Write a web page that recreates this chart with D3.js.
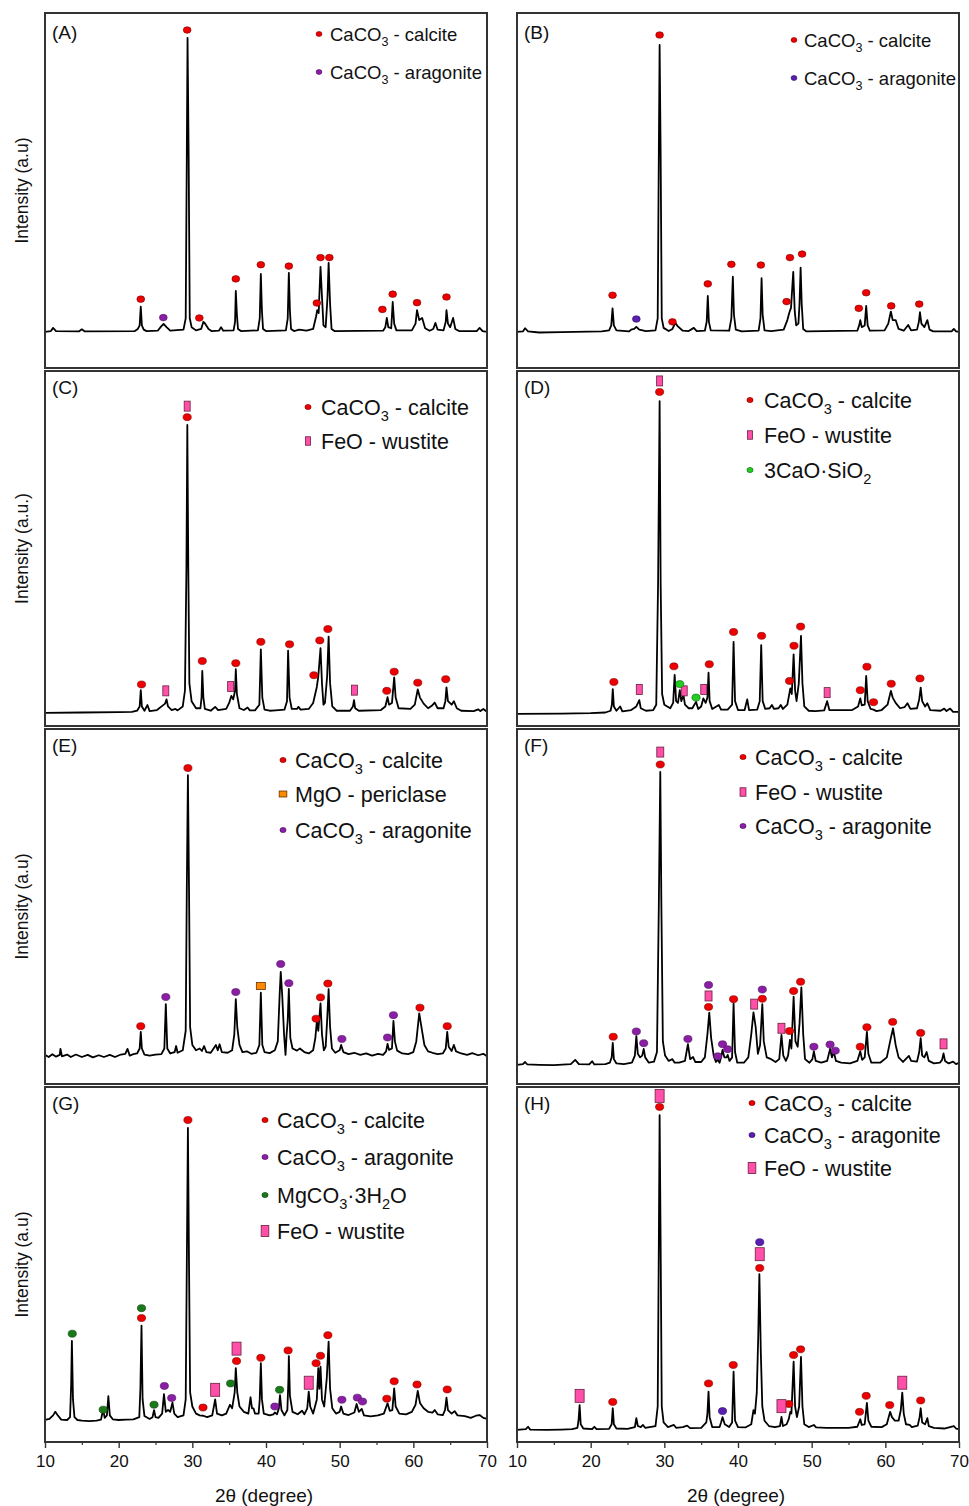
<!DOCTYPE html>
<html><head><meta charset="utf-8">
<script src="https://cdn.jsdelivr.net/npm/d3@7"></script>
<style>body{margin:0;background:#fff}svg{display:block}</style>
</head><body>
<svg id="chart" width="969" height="1506"></svg>
<script>
// ---------- DATA (2θ in degrees, intensity in a.u. 0–100 of panel height) ----------
const xTicks = [10, 20, 30, 40, 50, 60, 70];
const xMinorTicks = [15, 25, 35, 45, 55, 65];
const xTitle = "2θ (degree)";

const specA = [[10,10.2],[10.8,10.4],[11.1,11.3],[11.5,10.4],[14.6,10.3],[15.0,10.9],[15.4,10.3],[22.2,10.4],[22.6,11],[22.85,12],[23.0,17.3],[23.15,12],[23.4,10.8],[23.8,10.4],[25.3,10.5],[25.8,11.8],[26.1,12.4],[26.5,11.5],[27,10.5],[28.8,10.8],[29.1,14],[29.25,60],[29.35,93],[29.5,60],[29.65,14],[29.9,11.5],[30.5,10.6],[31.2,11],[31.5,13],[31.7,12.6],[32.2,11],[32.6,10.4],[33.6,10.5],[33.9,11.5],[34.2,10.5],[35.6,10.6],[35.8,13],[35.9,21.7],[36.05,15],[36.2,11],[36.6,10.4],[38.9,10.6],[39.15,14],[39.3,26.5],[39.45,16],[39.6,11],[40,10.4],[42.7,10.6],[42.95,14],[43.1,26.8],[43.25,16],[43.4,11],[43.8,10.4],[44.5,10.8],[45.5,10.5],[46.4,11],[46.8,14.5],[46.95,16.3],[47.15,15.5],[47.4,28.5],[47.6,20],[47.8,12],[48.1,11.5],[48.35,20],[48.5,29.6],[48.7,18],[48.9,11],[49.3,10.4],[55.9,10.5],[56.2,11.5],[56.4,14.1],[56.6,11.5],[57.0,11.2],[57.2,18.6],[57.4,12.5],[57.7,10.6],[59.8,10.6],[60.3,12.5],[60.5,16.3],[60.8,13.5],[61.2,14.1],[61.6,11.2],[62.2,10.5],[62.7,11],[63.0,12.7],[63.3,10.8],[64.1,10.6],[64.4,13],[64.5,16.3],[64.7,12.5],[65.0,11.5],[65.4,14.1],[65.7,11],[66.2,10.4],[68.6,10.4],[69.0,11.3],[69.4,10.4],[70,10.2]];
const specB = [[10,10.2],[10.8,10.3],[11.1,11.2],[11.5,10.3],[13,10],[16,10.1],[21.5,10.3],[22.5,10.6],[22.8,12],[22.97,16.8],[23.15,12],[23.5,10.6],[25.2,10.3],[25.5,10.8],[25.9,11],[26.2,11.6],[26.6,10.8],[27.5,10.4],[28.8,10.6],[29.1,14],[29.25,60],[29.36,91],[29.5,60],[29.65,14],[29.9,11.3],[30.6,10.4],[31.1,11],[31.5,12.7],[31.8,11.8],[32.5,10.5],[33.3,10.4],[34,11.3],[34.4,10.4],[35.5,10.5],[35.75,13],[35.9,20.3],[36.05,13],[36.3,10.6],[38.8,10.5],[39.1,14],[39.3,25.7],[39.45,15],[39.7,10.8],[40.5,10.3],[42.8,10.5],[43.05,14],[43.2,25.3],[43.35,15],[43.6,10.6],[44.5,10.4],[46.2,10.8],[46.7,13.5],[46.95,15.5],[47.2,17],[47.5,27.1],[47.7,16],[47.9,12],[48.2,12.5],[48.35,18],[48.5,28.3],[48.65,18],[48.85,11],[49.3,10.3],[56.2,10.5],[56.45,12],[56.6,13.5],[56.8,11.5],[57.2,12],[57.4,17.5],[57.6,12],[57.9,10.5],[59.9,10.6],[60.4,12.5],[60.75,15.9],[61.0,13.5],[61.4,13.5],[61.8,11],[62.5,10.5],[63.1,12.1],[63.5,10.6],[64.3,10.8],[64.55,13],[64.7,15.7],[64.9,12.5],[65.3,11.5],[65.7,13.5],[66,10.8],[66.5,10.3],[69,10.3],[69.3,11],[69.6,10.3],[70,10.2]];
const specC = [[10,3.7],[15,3.8],[20,3.9],[21.8,4],[22.5,4.3],[22.85,5.5],[23.0,10.1],[23.15,5.5],[23.5,4.3],[23.9,5.9],[24.2,4.2],[25.2,4.5],[26.0,5.8],[26.3,6.3],[26.5,7.5],[26.7,5.5],[27.2,4.5],[27.7,4.8],[28,4.4],[28.7,5.5],[29.0,10],[29.2,45],[29.32,84.8],[29.45,45],[29.6,12],[29.9,7],[30.5,5],[31.1,5],[31.25,8],[31.35,15.5],[31.5,8],[31.7,4.8],[32.5,4.3],[33.1,5.4],[33.5,4.5],[34.6,4.8],[35.0,6.5],[35.3,8.5],[35.55,7.5],[35.8,10],[35.9,16],[36.05,9],[36.4,5],[37.0,4.5],[37.5,5.2],[37.8,4.4],[38.5,4.4],[39.1,6],[39.3,21.6],[39.5,8],[39.8,4.6],[40.5,4.3],[41.3,4.4],[42.5,4.6],[42.85,7],[43.0,21.2],[43.2,8],[43.5,4.8],[44.2,4.8],[44.4,5.4],[44.7,4.6],[45.8,4.8],[46.4,6.5],[46.9,11],[47.1,14],[47.4,21.9],[47.6,12],[47.8,6],[48.0,6.5],[48.3,14],[48.5,25.2],[48.7,12],[49.0,5.5],[49.6,4.3],[51.4,4.3],[51.8,5.5],[51.95,7.3],[52.1,5],[52.6,4.3],[55.6,4.5],[56.2,5.5],[56.5,8.1],[56.7,6],[57.1,6.5],[57.4,13.7],[57.6,8],[58,5],[59.6,4.8],[60.2,6],[60.6,10.3],[60.9,8],[61.4,6.3],[62,5],[62.5,5.7],[62.9,6.6],[63.3,5],[64.1,5],[64.35,7],[64.5,10.9],[64.7,7],[65.2,6],[65.5,7],[65.9,5],[66.5,4.3],[68.2,4.2],[68.8,4.7],[69.1,4.2],[69.5,4.8],[70,4]];
const specD = [[10,3.4],[16,3.5],[20,3.6],[22,3.8],[22.7,4.3],[22.88,6],[23.0,10.4],[23.15,5.5],[23.5,4.3],[24,5.5],[24.3,4.1],[25.5,4.5],[26.2,5.5],[26.6,7.3],[26.8,5],[27.5,4.3],[28.5,4.5],[28.9,6],[29.15,40],[29.36,91.5],[29.5,40],[29.7,9],[30,6],[30.8,5],[31.2,6.5],[31.4,14.4],[31.6,7],[31.85,6.5],[32.1,10.1],[32.3,7],[32.6,8.7],[32.8,6],[33.3,5],[33.8,5],[34.3,6.8],[34.6,4.8],[35.0,5.5],[35.3,7.8],[35.6,6.5],[35.85,8],[36.0,15],[36.15,7],[36.5,4.8],[37.4,5.9],[37.7,4.6],[38.6,4.6],[39.2,6],[39.4,23.7],[39.6,7],[40,4.5],[40.9,4.5],[41.25,7.5],[41.5,4.5],[42.6,4.6],[42.95,7],[43.15,22.8],[43.35,7],[43.7,4.8],[44.3,5],[44.6,5.9],[44.9,4.8],[45.5,5],[45.8,5.9],[46.1,4.8],[46.7,6],[47.1,10.6],[47.3,9],[47.55,20.2],[47.75,10],[47.95,7],[48.25,12],[48.55,25.4],[48.75,12],[49.0,5.5],[49.6,4.3],[50.5,4.2],[51.7,4.4],[52.1,7],[52.4,4.5],[55.5,4.5],[56.3,5.5],[56.6,7.8],[56.8,5.8],[57.2,6],[57.4,14.1],[57.6,7],[58.0,4.8],[58.4,4.6],[58.8,4.2],[59.5,4.5],[60.3,6],[60.75,9.9],[61.0,8],[61.4,6.5],[62,5],[62.6,5.3],[63.0,6.4],[63.4,4.8],[64.3,5],[64.6,7.5],[64.8,10.8],[65.0,7],[65.4,5.5],[65.7,6.4],[66.1,4.5],[67.5,4.3],[68,4.9],[68.3,4.2],[68.8,4.9],[69.2,4],[70,4]];
const specE = [[10,8.2],[10.5,7.6],[11,8.4],[11.5,7.7],[12,8.2],[12.1,9.9],[12.3,7.8],[13,8.3],[13.5,7.6],[14.2,8.3],[15,7.6],[15.8,8.2],[16.5,7.5],[17.3,8.1],[18,7.6],[18.8,8.2],[19.5,7.6],[20.3,8.3],[20.9,8.5],[21.2,9.9],[21.5,8],[22,8.4],[22.5,8.6],[22.85,10],[23.0,14.7],[23.15,10],[23.5,8.3],[24.2,8],[25,8.3],[25.8,8.4],[26.2,10],[26.4,22.5],[26.6,10],[27,8.6],[27.6,9],[27.8,10.7],[28,8.8],[28.7,9.5],[29.1,15],[29.25,55],[29.4,87],[29.55,55],[29.7,16],[30,11],[30.5,9.5],[31,10],[31.3,9.3],[31.6,10.7],[31.9,9],[32.5,8.8],[33.2,11],[33.45,9.5],[33.7,11.2],[34,9],[34.8,8.8],[35.4,9.5],[35.7,14],[35.9,23.9],[36.1,16],[36.4,11],[36.8,9],[37.4,9.2],[38,8.5],[38.7,8.8],[39.1,11],[39.3,25.7],[39.5,11],[39.8,9],[40.5,8.7],[41.2,9.5],[41.6,12],[41.85,25],[42.0,31.6],[42.2,25],[42.45,14],[42.65,8.2],[42.8,14],[42.95,18],[43.1,26.8],[43.3,13],[43.6,10],[44.2,9.4],[44.6,10],[45.2,9],[45.8,8.6],[46.4,9.5],[46.7,13],[46.9,17.6],[47.1,15],[47.4,22.7],[47.6,14],[47.85,9.5],[48.1,10.5],[48.3,18],[48.5,26.7],[48.7,16],[48.95,10],[49.4,8.8],[50,9.5],[50.2,11],[50.5,9],[51.2,8.4],[52,8.8],[52.8,8.2],[53.6,8.6],[54.4,8],[55.2,8.5],[55.9,8.2],[56.3,9.2],[56.5,11.3],[56.7,9.6],[57.1,10],[57.3,17.8],[57.5,12],[57.8,9.4],[58.5,8.6],[59.3,8.4],[60,9],[60.4,12],[60.8,19.9],[61.1,16],[61.5,11],[62,9.2],[62.6,8.8],[63.3,8.4],[64,8.6],[64.4,10],[64.6,14.7],[64.8,10.5],[65.2,9.3],[65.5,11],[65.8,9.2],[66.5,8.6],[67.3,8.2],[68,8.7],[68.8,8.1],[69.5,8.5],[70,7.8]];
const specF = [[10,5.4],[10.8,5.6],[11.1,6.2],[11.4,5.5],[13,5.4],[15,5.3],[17.3,5.6],[17.9,6.8],[18.4,5.6],[19.8,5.5],[20.2,6.4],[20.5,5.5],[22,5.6],[22.6,6],[22.85,7.5],[23.0,11.6],[23.15,7],[23.5,5.8],[24.5,5.6],[25.6,6],[26.0,8],[26.2,13.5],[26.4,8.5],[26.7,7.5],[27.0,8],[27.2,9.9],[27.4,7.5],[27.9,6],[28.6,6.3],[29.0,9],[29.25,50],[29.45,87.9],[29.6,50],[29.8,12],[30.1,8],[30.6,6.5],[31.1,7],[31.4,6],[32.0,6],[32.8,6.5],[33.2,11.2],[33.5,7],[33.9,7.6],[34.2,6.2],[35,6.2],[35.5,7.5],[35.85,14],[36.1,20.1],[36.35,13],[36.7,8],[37.0,6.2],[37.25,6.8],[37.5,6],[37.75,8],[37.9,9.6],[38.15,7.5],[38.45,7.5],[38.6,8.2],[38.85,6.5],[39.2,7.5],[39.4,22.7],[39.6,9],[39.9,6],[40.8,6],[41.4,7.5],[41.8,14],[42.1,20.2],[42.4,16],[42.7,8.5],[43.0,11],[43.3,22.5],[43.5,12],[43.9,7.5],[44.5,7],[45.1,6.2],[45.6,7],[45.9,13.8],[46.15,8],[46.5,6.5],[46.8,8],[47.05,12.4],[47.25,10],[47.55,24.6],[47.8,12],[48.1,10.5],[48.35,17],[48.6,27.2],[48.85,14],[49.1,7],[49.7,6],[50.1,7],[50.3,9.2],[50.55,6.5],[51.3,6],[52.1,6.5],[52.5,9.9],[52.75,7.5],[53.0,9],[53.3,6.5],[54,6],[55.2,5.8],[56.2,6.5],[56.6,9.2],[56.85,6.8],[57.2,7.5],[57.5,14.7],[57.7,8.5],[58.1,6],[59.3,6],[60.2,7.5],[60.7,12.5],[61.05,15.7],[61.4,11],[61.8,7.5],[62.4,6.2],[63.0,7.5],[63.2,7.9],[63.5,6.5],[64.3,6.3],[64.6,9],[64.8,12.9],[65.0,8],[65.3,7.5],[65.6,9],[65.9,6.5],[66.6,5.8],[67.4,6],[67.7,6.8],[67.9,8.6],[68.1,6.5],[68.6,5.8],[69.2,6.3],[69.6,5.6],[70,6]];
const specG = [[10,6.2],[10.6,6.5],[11.1,7.5],[11.4,8.5],[11.7,7.6],[12.2,6.3],[13.0,6.2],[13.4,7],[13.55,16],[13.65,28.5],[13.8,12],[14,7],[14.4,6.2],[15,6],[16,5.9],[17,6],[17.6,6.3],[17.9,9.2],[18.1,6.8],[18.4,7.5],[18.6,12.9],[18.8,7.5],[19.2,6.4],[20,6.2],[21,6.3],[22,6.4],[22.8,7],[22.95,15],[23.1,32.8],[23.25,12],[23.5,7.3],[24.2,6.5],[24.6,7],[24.8,9],[25.0,7],[25.4,6.8],[25.9,8],[26.15,13.5],[26.4,8.5],[26.7,9],[27.0,8.5],[27.3,11.1],[27.55,8],[28,7],[28.8,7.5],[29.1,12],[29.25,50],[29.4,88.5],[29.55,50],[29.7,14],[30.0,10],[30.5,8],[31.0,7.5],[31.5,7.4],[32.0,7],[32.7,7.5],[33.1,12],[33.35,8],[34.0,7.5],[34.6,8],[35.1,10.5],[35.4,9.5],[35.75,14],[35.9,20.8],[36.1,14],[36.4,10],[37,8.5],[37.6,8],[37.9,12.6],[38.1,9.5],[38.3,9.5],[38.5,8],[39.0,8],[39.15,12],[39.3,22.2],[39.45,12],[39.7,8],[40.5,7.5],[41.0,7.8],[41.2,8.3],[41.5,7.8],[41.75,9.5],[41.9,13.2],[42.1,9],[42.5,7.5],[42.9,9],[43.05,18],[43.1,24.2],[43.25,13],[43.6,8.5],[44.3,7.8],[44.9,8.8],[45.2,7.8],[45.6,9.5],[45.8,14.2],[46.0,10],[46.4,8],[46.9,12],[47.1,20.8],[47.25,15],[47.4,21.2],[47.6,12],[47.9,10],[48.25,18],[48.5,28.3],[48.7,15],[49.0,9.5],[49.5,8],[50.0,8.5],[50.2,10],[50.5,8],[51.2,7.6],[52.0,8.3],[52.3,10.7],[52.6,8.5],[53.0,9.3],[53.3,7.5],[54.2,7.2],[55.2,7.5],[56.0,8],[56.5,10.9],[56.8,8.8],[57.15,9],[57.4,15.1],[57.6,10],[58.1,8],[59.0,7.8],[59.8,8.5],[60.3,10.5],[60.6,14.4],[60.9,11],[61.4,9.5],[62,8.5],[62.6,8.3],[62.9,9],[63.3,7.8],[64.0,7.6],[64.3,9],[64.5,12.5],[64.7,9],[65.2,8],[65.6,8.7],[66,7.5],[67,7.3],[67.8,6.8],[68.5,7.4],[69.0,7.6],[69.5,6.8],[70,6.5]];
const specH = [[10,3.4],[11.2,3.6],[11.5,4.3],[11.8,3.5],[14,3.4],[16,3.5],[17.5,3.6],[18.2,4],[18.35,6],[18.5,10.4],[18.65,5],[19,3.8],[20.2,3.6],[20.5,4.3],[20.8,3.6],[22.5,3.7],[22.85,5],[23.0,9.5],[23.15,5],[23.5,3.8],[25,3.7],[26.0,4.2],[26.2,6.7],[26.4,4.5],[26.8,4.2],[27.1,4.8],[27.4,4],[28.8,4.5],[29.1,10],[29.25,55],[29.36,92.1],[29.5,55],[29.65,10],[29.9,5.5],[30.5,4.2],[31.3,4.8],[31.6,4],[32.5,4.2],[33.1,4.6],[33.5,3.9],[35,4],[35.7,5.5],[35.85,8],[36.0,14.2],[36.15,7],[36.5,4.2],[37.5,4.2],[37.7,5.5],[37.9,7],[38.2,5],[38.8,4.2],[39.2,5.5],[39.4,19.8],[39.6,6],[40,4.2],[41,4.1],[41.8,5],[42.1,9],[42.3,8],[42.55,14],[42.75,30],[42.9,47.3],[43.1,25],[43.3,10],[43.6,6],[44.2,4.5],[45,4.2],[45.7,4.5],[45.9,7.1],[46.1,4.5],[46.6,5],[46.9,6.5],[47.1,8.5],[47.25,8],[47.55,22.6],[47.75,10],[48.0,7],[48.3,10],[48.55,24],[48.75,10],[49.0,5],[49.6,4.2],[50.3,4.8],[50.6,4.1],[52,4],[53.3,4],[55,4],[56.2,4.3],[56.6,6.4],[56.8,4.8],[57.2,5],[57.5,11],[57.7,6],[58.1,4.3],[59.5,4.2],[60.2,5],[60.65,8.5],[60.9,7],[61.3,6],[61.8,6],[62.1,9],[62.3,13.9],[62.5,8],[62.8,5],[63.3,4.8],[63.6,4.2],[64.4,4.6],[64.65,7],[64.8,9.5],[65.0,5.5],[65.4,5],[65.7,6.7],[65.9,4.5],[66.6,4],[68,3.8],[69.3,4.5],[69.6,3.8],[70,3.6]];

// phase markers [2θ, intensity]
const calciteA = [[23.0,19.4],[29.3,95.2],[30.95,14.1],[35.9,25.1],[39.3,29.1],[43.1,28.7],[46.9,18.3],[47.4,31.1],[48.6,31.1],[55.8,16.5],[57.2,20.8],[60.5,18.4],[64.5,20]];
const aragoniteA = [[26.06,14.2]];
const calciteB = [[22.97,20.5],[29.36,93.8],[31.1,13],[35.9,23.7],[39.1,29.2],[43.1,29],[46.6,18.7],[47.05,31.1],[48.7,32.1],[56.4,16.8],[57.4,21.2],[60.8,17.5],[64.6,18]];
const aragoniteB = [[26.2,13.8]];
const calciteC = [[23.1,11.7],[29.3,87],[31.35,18.3],[35.9,17.7],[39.3,23.7],[43.2,23],[46.5,14.3],[47.3,24.1],[48.4,27.3],[56.4,9.9],[57.4,15.3],[60.6,12.2],[64.4,13.2]];
const wustiteC = [[26.4,9.9],[29.3,90.1],[35.2,11.1],[52.0,10.1]];
const calciteD = [[23.15,12.4],[29.36,94.1],[31.3,16.8],[36.1,17.4],[39.4,26.5],[43.2,25.4],[47.0,12.7],[47.6,22.6],[48.5,28],[56.6,10.1],[57.5,16.7],[58.4,6.7],[60.8,11.9],[64.7,13.4]];
const wustiteD = [[26.6,10.3],[29.36,97.2],[32.7,9.9],[35.35,10.3],[52.1,9.4]];
const c3sD = [[32.1,11.8],[34.3,8]];
const calciteE = [[23.0,16.3],[29.4,89],[46.8,18.4],[47.4,24.4],[48.4,28.3],[60.9,21.5],[64.6,16.3]];
const periclaseE = [[39.3,27.6]];
const aragoniteE = [[26.4,24.5],[35.9,25.9],[42.0,33.8],[43.1,28.4],[50.3,12.7],[56.5,13.1],[57.3,19.4]];
const calciteF = [[23.06,13.3],[29.45,90],[36.0,21.7],[39.4,23.9],[43.3,24],[47.0,14.9],[47.55,26.2],[48.5,28.8],[56.6,10.5],[57.5,16],[61.0,17.5],[64.8,14.4]];
const wustiteF = [[29.45,93.5],[36.0,24.8],[42.2,22.5],[45.9,15.7],[67.9,11.3]];
const aragoniteF = [[26.2,14.8],[27.2,11.5],[33.2,12.7],[36.0,27.9],[37.25,7.8],[37.9,11.2],[38.6,9.8],[43.3,26.6],[50.3,10.5],[52.5,11.1],[53.2,9.4]];
const calciteG = [[23.1,34.9],[29.4,90.7],[31.45,9.7],[36.0,22.8],[39.3,23.7],[43.0,25.8],[46.8,22.2],[47.4,24.3],[48.4,30.1],[56.4,12.2],[57.4,17.1],[60.5,16.2],[64.6,14.8]];
const aragoniteG = [[26.2,15.8],[27.2,12.4],[41.2,10],[50.3,11.9],[52.4,12.5],[53.1,11.4]];
const mgco3G = [[13.7,30.5],[17.9,9.1],[23.1,37.7],[24.8,10.5],[35.2,16.5],[41.85,14.7]];
const wustiteG = [[33.1,14.7],[36.0,26.3],[45.8,16.7]];
const calciteH = [[23.0,11.3],[29.36,94.4],[36.0,16.5],[39.35,21.7],[42.95,49],[46.9,10.7],[47.55,24.5],[48.5,26.1],[56.5,8.5],[57.4,13],[60.6,10.4],[64.8,11.7]];
const aragoniteH = [[37.9,8.7],[42.95,56.3]];
const wustiteH = [[18.5,13],[29.36,97.5],[42.95,52.9],[45.9,10.1],[62.3,16.7]];

const phaseLabels = {
  calcite: "CaCO_3 - calcite",
  aragonite: "CaCO_3 - aragonite",
  wustite: "FeO - wustite",
  periclase: "MgO - periclase",
  c3s: "3CaO·SiO_2",
  mgco3: "MgCO_3·3H_2O"
};

// ---------- STYLE / LAYOUT ----------
const FONT = "'Liberation Sans', Arial, Helvetica, sans-serif";
const colX = [[45, 487], [517, 959]];
const rowTop = [13, 371, 729, 1087];
const PH = 355;

const styles = {
  calcite: {shape: "circle", fill: "#ee0000", stroke: "#7a0000"},
  aragonite: {shape: "circle", fill: "#8a1fa6", stroke: "#4a0d5a"},
  aragoniteB: {shape: "circle", fill: "#5a1fb0", stroke: "#2a0a60"},
  wustite: {shape: "rect", fill: "#ff4fa8", stroke: "#6a2040"},
  periclase: {shape: "hrect", fill: "#ff8a00", stroke: "#6a3000"},
  c3s: {shape: "circle", fill: "#22cc22", stroke: "#0a600a"},
  mgco3: {shape: "circle", fill: "#1a7a1a", stroke: "#0a3a0a"}
};

const panels = [
  {id: "A", col: 0, row: 0, spec: specA, ylabel: "Intensity (a.u)", lf: 18.5, symX: 274, txtX: 285, rows: [21, 59], ms: {r: 3.6, rw: 6, rh: 10},
   phases: [["calcite", calciteA, "calcite"], ["aragonite", aragoniteA, "aragonite"]]},
  {id: "B", col: 1, row: 0, spec: specB, ylabel: null, lf: 18.5, symX: 277, txtX: 287, rows: [27, 65], ms: {r: 3.6, rw: 6, rh: 10},
   phases: [["calcite", calciteB, "calcite"], ["aragonite", aragoniteB, "aragoniteB"]]},
  {id: "C", col: 0, row: 1, spec: specC, ylabel: "Intensity (a.u.)", lf: 21.5, symX: 263, txtX: 276, rows: [36, 70], ms: {r: 3.8, rw: 6, rh: 10},
   phases: [["calcite", calciteC, "calcite"], ["wustite", wustiteC, "wustite"]]},
  {id: "D", col: 1, row: 1, spec: specD, ylabel: null, lf: 21.5, symX: 233, txtX: 247, rows: [29, 64, 99], ms: {r: 3.8, rw: 6, rh: 10},
   phases: [["calcite", calciteD, "calcite"], ["wustite", wustiteD, "wustite"], ["c3s", c3sD, "c3s"]]},
  {id: "E", col: 0, row: 2, spec: specE, ylabel: "Intensity (a.u)", lf: 21.5, symX: 238, txtX: 250, rows: [31, 65, 101], ms: {r: 3.8, rw: 6, rh: 10},
   phases: [["calcite", calciteE, "calcite"], ["periclase", periclaseE, "periclase"], ["aragonite", aragoniteE, "aragonite"]]},
  {id: "F", col: 1, row: 2, spec: specF, ylabel: null, lf: 21.5, symX: 226, txtX: 238, rows: [28, 63, 97], ms: {r: 3.8, rw: 7, rh: 10},
   phases: [["calcite", calciteF, "calcite"], ["wustite", wustiteF, "wustite"], ["aragonite", aragoniteF, "aragonite"]]},
  {id: "G", col: 0, row: 3, spec: specG, ylabel: "Intensity (a.u)", lf: 21.5, symX: 220, txtX: 232, rows: [33, 70, 108, 144], ms: {r: 3.8, rw: 9, rh: 13},
   phases: [["calcite", calciteG, "calcite"], ["aragonite", aragoniteG, "aragonite"], ["mgco3", mgco3G, "mgco3"], ["wustite", wustiteG, "wustite"]]},
  {id: "H", col: 1, row: 3, spec: specH, ylabel: null, lf: 21.5, symX: 235, txtX: 247, rows: [16, 48, 81], ms: {r: 3.8, rw: 9, rh: 13},
   phases: [["calcite", calciteH, "calcite"], ["aragonite", aragoniteH, "aragoniteB"], ["wustite", wustiteH, "wustite"]]}
];

const svg = d3.select("#chart");

function richText(sel, str, fs) {
  const parts = str.split(/_(\d)/);
  let shifted = false;
  parts.forEach((p, i) => {
    if (p === "") return;
    const t = sel.append("tspan").text(p);
    if (i % 2 === 1) {
      t.attr("font-size", fs * 0.68).attr("dy", fs * 0.28);
      shifted = true;
    } else if (shifted) {
      t.attr("dy", -fs * 0.28);
      shifted = false;
    }
  });
}

function drawSymbol(g, st, cx, cy, ms, scale) {
  const s = scale || 1;
  if (st.shape === "circle") {
    g.append("ellipse").attr("cx", cx).attr("cy", cy).attr("rx", ms.r * 1.08 * s).attr("ry", ms.r * 0.92 * s)
      .attr("fill", st.fill).attr("stroke", st.stroke).attr("stroke-width", 0.6);
  } else if (st.shape === "rect") {
    const w = ms.rw * s, h = ms.rh * s;
    g.append("rect").attr("x", cx - w / 2).attr("y", cy - h / 2).attr("width", w).attr("height", h)
      .attr("fill", st.fill).attr("stroke", st.stroke).attr("stroke-width", 0.8);
  } else if (st.shape === "hrect") {
    const w = 9 * s, h = 7 * s;
    g.append("rect").attr("x", cx - w / 2).attr("y", cy - h / 2).attr("width", w).attr("height", h)
      .attr("fill", st.fill).attr("stroke", st.stroke).attr("stroke-width", 0.8);
  }
}

panels.forEach(p => {
  const [x0, x1] = colX[p.col];
  const top = rowTop[p.row], bottom = top + PH;
  const x = d3.scaleLinear().domain([10, 70]).range([x0, x1]);
  const y = d3.scaleLinear().domain([0, 100]).range([bottom, top]);
  const g = svg.append("g");

  // spectrum
  const line = d3.line().x(d => x(d[0])).y(d => y(d[1]));
  g.append("path").datum(p.spec).attr("d", line).attr("fill", "none")
    .attr("stroke", "#000").attr("stroke-width", 1.8).attr("stroke-linejoin", "round");

  // markers
  p.phases.forEach(([key, pts, styleKey]) => {
    const st = styles[styleKey];
    pts.forEach(d => drawSymbol(g, st, x(d[0]), y(d[1]), p.ms));
  });

  // frame
  g.append("rect").attr("x", x0).attr("y", top).attr("width", x1 - x0).attr("height", PH)
    .attr("fill", "none").attr("stroke", "#333").attr("stroke-width", 2);

  // panel letter
  g.append("text").attr("x", x0 + 7).attr("y", top + (p.row === 0 ? 19 : 16)).attr("dy", "0.35em")
    .attr("font-family", FONT).attr("font-size", 19).attr("fill", "#111").text("(" + p.id + ")");

  // legend
  p.phases.forEach(([key, pts, styleKey], i) => {
    const cy = top + p.rows[i];
    const st = styles[styleKey];
    drawSymbol(g, st, x0 + p.symX, cy, p.ms, st.shape === "circle" ? 0.75 : 0.85);
    const t = g.append("text").attr("x", x0 + p.txtX).attr("y", cy + p.lf * 0.36)
      .attr("font-family", FONT).attr("font-size", p.lf).attr("fill", "#111");
    richText(t, phaseLabels[key], p.lf);
  });

  // y label
  if (p.ylabel) {
    svg.append("text").attr("transform", `translate(22,${top + PH / 2}) rotate(-90)`)
      .attr("text-anchor", "middle").attr("dy", "0.35em")
      .attr("font-family", FONT).attr("font-size", 17.5).attr("fill", "#111").text(p.ylabel);
  }

  // x axis for bottom row
  if (p.row === 3) {
    const ax = svg.append("g").attr("transform", `translate(0,${bottom})`)
      .call(d3.axisBottom(x).tickValues(xTicks).tickSize(6).tickPadding(7).tickFormat(d3.format("d")));
    ax.select(".domain").remove();
    ax.selectAll("line").attr("stroke", "#333").attr("stroke-width", 1.4);
    ax.selectAll("text").attr("font-family", FONT).attr("font-size", 17).attr("fill", "#111");
    const axm = svg.append("g").attr("transform", `translate(0,${bottom})`)
      .call(d3.axisBottom(x).tickValues(xMinorTicks).tickSize(3).tickFormat(""));
    axm.select(".domain").remove();
    axm.selectAll("line").attr("stroke", "#333").attr("stroke-width", 1.2);
    svg.append("text").attr("x", (x0 + x1) / 2 - 2).attr("y", 1495).attr("dy", "0.35em")
      .attr("text-anchor", "middle").attr("font-family", FONT).attr("font-size", 19).attr("fill", "#111").text(xTitle);
  }
});
</script>
</body></html>
